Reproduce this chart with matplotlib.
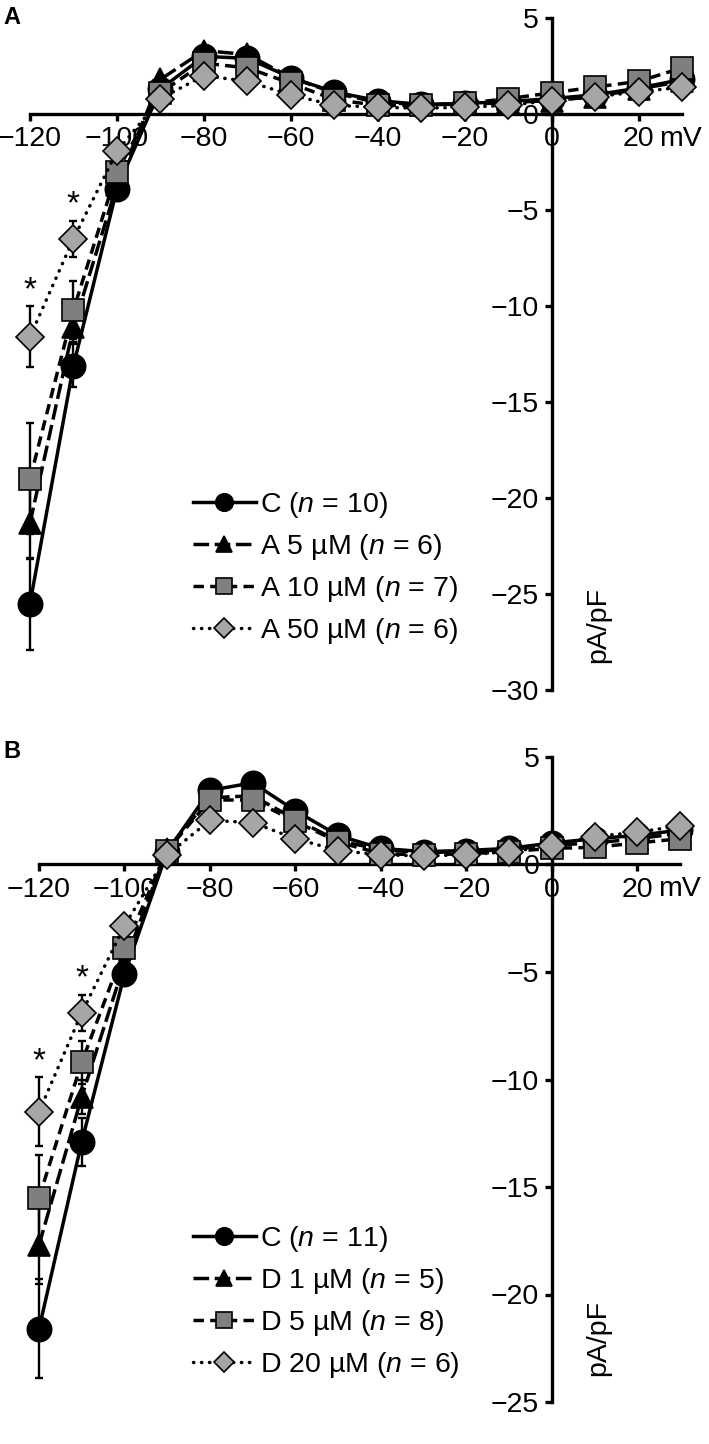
import numpy as np
import matplotlib
matplotlib.use("Agg")
import matplotlib.pyplot as plt

plt.rcParams['font.family'] = ['Liberation Sans', 'DejaVu Sans']
plt.rcParams['mathtext.fontset'] = 'custom'
plt.rcParams['mathtext.it'] = 'Liberation Sans:italic'
plt.rcParams['mathtext.rm'] = 'Liberation Sans'

# membrane potential (mV)
mv = [-120, -110, -100, -90, -80, -70, -60, -50, -40, -30, -20, -10, 0, 10, 20, 30]

# Panel A: current density (pA/pF)
a_c = [-25.5, -13.1, -3.9, 1.3, 3.0, 2.9, 1.9, 1.15, 0.7, 0.5, 0.55, 0.65, 0.8, 1.0, 1.35, 1.8]
a_5 = [-21.3, -11.1, -3.7, 1.8, 3.3, 3.1, 1.9, 1.1, 0.6, 0.5, 0.5, 0.6, 0.7, 0.9, 1.3, 1.7]
a_10 = [-19.0, -10.2, -3.0, 1.1, 2.65, 2.4, 1.6, 0.75, 0.45, 0.45, 0.55, 0.8, 1.1, 1.4, 1.7, 2.4]
a_50 = [-11.6, -6.5, -1.95, 0.8, 2.0, 1.7, 1.0, 0.45, 0.35, 0.3, 0.35, 0.45, 0.7, 0.9, 1.15, 1.4]
# SEM at -120 and -110 mV
a_c_err = [2.4, 1.1]
a_5_err = [1.9, 0.8]
a_10_err = [2.9, 1.5]
a_50_err = [1.6, 0.95]
a_labels = ["C ($n$ = 10)", "A 5 µM ($n$ = 6)", "A 10 µM ($n$ = 7)", "A 50 µM ($n$ = 6)"]

# Panel B
b_c = [-21.6, -12.9, -5.1, 0.6, 3.45, 3.8, 2.5, 1.35, 0.75, 0.6, 0.65, 0.75, 1.0, 1.2, 1.35, 1.6]
b_1 = [-17.7, -10.8, -4.6, 0.7, 3.1, 3.2, 2.1, 1.1, 0.7, 0.55, 0.6, 0.7, 0.9, 1.0, 1.2, 1.45]
b_5 = [-15.5, -9.2, -3.9, 0.65, 3.0, 3.0, 2.0, 1.05, 0.5, 0.45, 0.5, 0.6, 0.75, 0.8, 1.0, 1.2]
b_20 = [-11.5, -6.9, -2.85, 0.45, 2.05, 1.95, 1.2, 0.65, 0.45, 0.4, 0.45, 0.6, 0.85, 1.3, 1.5, 1.8]
b_c_err = [2.3, 1.1]
b_1_err = [1.8, 0.8]
b_5_err = [2.0, 1.0]
b_20_err = [1.6, 0.85]
b_labels = ["C ($n$ = 11)", "D 1 µM ($n$ = 5)", "D 5 µM ($n$ = 8)", "D 20 µM ($n$ = 6)"]

W, H = 709, 1444
FS = 20.5

styles = [
    dict(ls='-', marker='o', ms=17.5, mfc='black'),
    dict(ls=(0, (4.5, 1.6)), marker='^', ms=16.5, mfc='black'),
    dict(ls=(0, (3, 1.8)), marker='s', ms=16.5, mfc='#7f7f7f'),
    dict(ls=(0, (0.1, 2.2)), marker='D', ms=14.5, mfc='#a6a6a6'),
]


def px_axes(fig, left, top, right, bottom):
    return fig.add_axes([left / W, 1 - bottom / H, (right - left) / W, (bottom - top) / H])


def draw_panel(ax, series, errs, labels, ylim, yticks, ylab_pos, leg_anchor):
    lines = []
    for i, (vals, err, st) in enumerate(zip(series, errs, styles)):
        ax.errorbar(mv[:2], vals[:2], yerr=err, fmt='none', ecolor='black',
                    elinewidth=1.7, capsize=3, capthick=1.7, zorder=2 + i, clip_on=False)
        ln, = ax.plot(mv, vals, color='black', lw=2.5, ls=st['ls'], marker=st['marker'],
                      ms=st['ms'], mfc=st['mfc'], mec='black', mew=1.2,
                      dash_capstyle='round' if i == 3 else 'butt',
                      clip_on=False, zorder=2.5 + i, label=labels[i])
        lines.append(ln)
    # significance asterisks over the highest concentration
    top = series[3]
    for k in range(2):
        ax.text(mv[k], top[k] + errs[3][k], '*', ha='center', va='bottom', fontsize=24, zorder=10)

    ax.set_xlim(-120, 30)
    ax.set_ylim(*ylim)
    for s in ['top', 'right']:
        ax.spines[s].set_visible(False)
    ax.spines['left'].set_position(('data', 0))
    ax.spines['bottom'].set_position(('data', 0))
    for s in ['left', 'bottom']:
        ax.spines[s].set_linewidth(2.4)
    ax.set_xticks(range(-120, 21, 20))
    ax.set_xticklabels(['\u2212120', '\u2212100', '\u221280', '\u221260', '\u221240', '\u221220', '0', '20'])
    ax.set_yticks(yticks)
    ax.set_yticklabels([str(t).replace('-', '\u2212') for t in yticks])
    ax.tick_params(axis='both', direction='out', length=5, width=2.4, labelsize=FS, pad=4)
    ax.annotate('mV', xy=(20, 0), xycoords='data', xytext=(15, -8.5), textcoords='offset points',
                ha='left', va='top', fontsize=FS)
    ax.text(ylab_pos[0], ylab_pos[1], 'pA/pF', rotation=90, ha='center', va='center', fontsize=FS)
    ax.legend(handles=lines, loc='upper left', bbox_to_anchor=leg_anchor,
              bbox_transform=ax.figure.transFigure, frameon=False, fontsize=FS,
              handlelength=2.2, handletextpad=0.15, labelspacing=0.42, borderpad=0,
              borderaxespad=0, markerscale=0.72)


fig = plt.figure(figsize=(W / 100, H / 100), dpi=100)

ax_a = px_axes(fig, 30, 18, 682, 690)
draw_panel(ax_a, [a_c, a_5, a_10, a_50], [a_c_err, a_5_err, a_10_err, a_50_err], a_labels,
           (-30, 5), list(range(5, -31, -5)), (10.8, -26.6), (193 / W, 1 - 490 / H))

ax_b = px_axes(fig, 39, 757, 680, 1402)
draw_panel(ax_b, [b_c, b_1, b_5, b_20], [b_c_err, b_1_err, b_5_err, b_20_err], b_labels,
           (-25, 5), list(range(5, -26, -5)), (10.8, -22.0), (193 / W, 1 - 1224 / H))

fig.text(3 / W, 1 - 17 / H, 'A', fontsize=17, fontweight='bold', ha='left', va='center')
fig.text(3 / W, 1 - 752 / H, 'B', fontsize=17, fontweight='bold', ha='left', va='center')

fig.savefig('out.png', dpi=100)
